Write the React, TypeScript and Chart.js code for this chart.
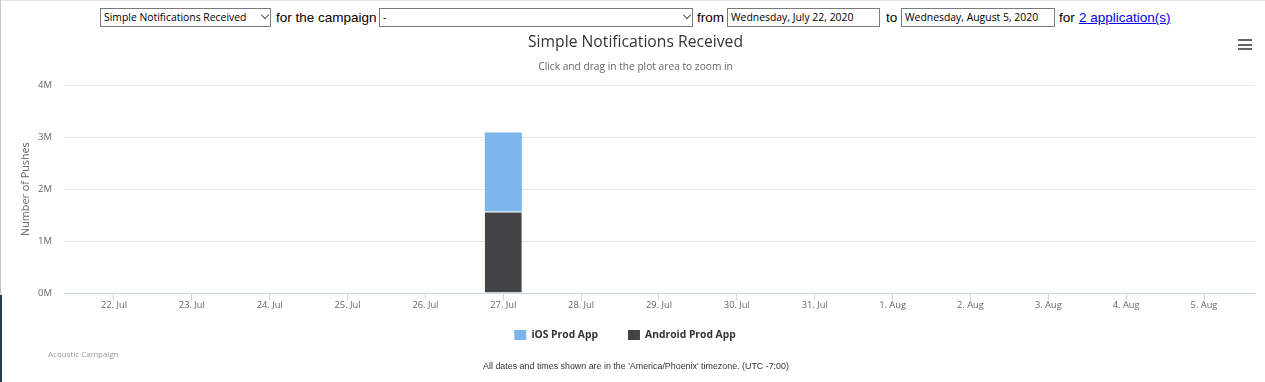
import React, { useEffect, useRef } from "react";
import { Chart, registerables } from "chart.js";

Chart.register(...registerables);

const dates = [
  "22. Jul", "23. Jul", "24. Jul", "25. Jul", "26. Jul", "27. Jul", "28. Jul",
  "29. Jul", "30. Jul", "31. Jul", "1. Aug", "2. Aug", "3. Aug", "4. Aug", "5. Aug",
];
const iosValues = [0, 0, 0, 0, 0, 1524000, 0, 0, 0, 0, 0, 0, 0, 0, 0];
const androidValues = [0, 0, 0, 0, 0, 1566000, 0, 0, 0, 0, 0, 0, 0, 0, 0];
const yTickValues = [0, 1000000, 2000000, 3000000, 4000000];
const seriesNames = ["iOS Prod App", "Android Prod App"];
const seriesColors = ["#7cb5ec", "#434348"];

const FONT = "'Open Sans', sans-serif";

const boxStyle = (left: number, width: number): React.CSSProperties => ({
  position: "absolute",
  left,
  top: 8,
  width,
  height: 19,
  boxSizing: "border-box",
  border: "1px solid #7a7a7a",
  background: "#fff",
  fontFamily: FONT,
  fontSize: 10.4,
  lineHeight: "17px",
  paddingLeft: 3,
  color: "#000",
  whiteSpace: "nowrap",
  overflow: "hidden",
});

const labelStyle = (left: number): React.CSSProperties => ({
  position: "absolute",
  left,
  top: 8,
  height: 19,
  lineHeight: "19px",
  fontFamily: "'Liberation Sans', Arial, sans-serif",
  fontSize: 13.5,
  color: "#000",
  whiteSpace: "nowrap",
});

function Chevron({ left }: { left: number }) {
  return (
    <div
      style={{
        position: "absolute",
        left,
        top: 12,
        width: 5,
        height: 5,
        borderRight: "1px solid #555",
        borderBottom: "1px solid #555",
        transform: "rotate(45deg)",
      }}
    />
  );
}

// moves the bottom legend closer to the axis and matches the reference's centring
const legendPlacement = {
  id: "legendPlacement",
  afterLayout(chart: any) {
    const lg = chart.legend;
    if (!lg) return;
    lg.top -= 11.3;
    lg.bottom -= 11.3;
    lg.left -= 10.5;
    lg.right -= 10.5;
  },
};

export default function App() {
  const canvasRef = useRef<HTMLCanvasElement | null>(null);

  useEffect(() => {
    const canvas = canvasRef.current;
    if (!canvas) return;
    const chart = new Chart(canvas, {
      type: "bar",
      data: {
        datasets: [
          {
            label: seriesNames[1],
            data: androidValues.map((v, i) => ({ x: i, y: v })),
            backgroundColor: seriesColors[1],
            borderColor: "#ffffff",
            borderWidth: { top: 1, left: 0, right: 0, bottom: 0 },
            barThickness: 37,
            inflateAmount: 0,
          },
          {
            label: seriesNames[0],
            data: iosValues.map((v, i) => ({ x: i, y: v })),
            backgroundColor: seriesColors[0],
            borderWidth: 0,
            barThickness: 37,
            inflateAmount: 0,
          },
        ],
      },
      plugins: [legendPlacement],
      options: {
        animation: false,
        responsive: false,
        maintainAspectRatio: false,
        layout: { padding: { left: 16, right: 10, top: 0, bottom: 20.5 } },
        plugins: {
          title: {
            display: true,
            text: "Simple Notifications Received",
            color: "#333333",
            font: { family: FONT, size: 15.7, weight: "normal" },
            padding: { top: 3, bottom: 9 },
          },
          subtitle: {
            display: true,
            text: "Click and drag in the plot area to zoom in",
            color: "#666666",
            font: { family: FONT, size: 10.2, weight: "normal" },
            padding: { top: 0, bottom: 12 },
          },
          legend: {
            position: "bottom",
            reverse: true,
            labels: {
              color: "#333333",
              font: { family: FONT, size: 10.3, weight: "bold" },
              boxWidth: 12,
              boxHeight: 10,
              padding: 30,
              generateLabels: (c: any) =>
                Chart.defaults.plugins.legend.labels
                  .generateLabels(c)
                  .map((l: any) => ({ ...l, lineWidth: 0 })),
            },
          },
          tooltip: { enabled: false },
        },
        scales: {
          x: {
            type: "linear",
            stacked: true,
            offset: false,
            min: -0.642,
            max: 14.655,
            afterBuildTicks: (scale: any) => {
              scale.ticks = dates.map((_, i) => ({ value: i }));
            },
            grid: {
              offset: false,
              drawOnChartArea: false,
              drawTicks: true,
              tickLength: 7,
              color: "#ccd6eb",
            },
            border: { display: true, color: "#ccd6eb" },
            ticks: {
              autoSkip: false,
              maxRotation: 0,
              padding: 0,
              color: "#666666",
              font: { family: FONT, size: 9.3 },
              callback: (v: any) => dates[Math.round(Number(v))] ?? "",
            },
          },
          y: {
            stacked: true,
            min: 0,
            max: 4000000,
            afterBuildTicks: (scale: any) => {
              scale.ticks = yTickValues.map((v) => ({ value: v }));
            },
            afterFit: (scale: any) => {
              scale.width = 48;
            },
            grid: {
              drawTicks: false,
              color: (ctx: any) => (ctx.index === 0 ? "rgba(0,0,0,0)" : "#e6e6e6"),
            },
            border: { display: false },
            ticks: {
              padding: 12,
              color: "#666666",
              font: { family: FONT, size: 9.5 },
              callback: (v: any) => `${Number(v) / 1000000}M`,
            },
            title: {
              display: true,
              text: "Number of Pushes",
              color: "#666666",
              font: { family: FONT, size: 10.8 },
              padding: { top: 3.5, bottom: 0 },
            },
          },
        },
      },
    });
    return () => chart.destroy();
  }, []);

  return (
    <div
      style={{
        position: "fixed",
        left: 0,
        top: 0,
        width: 1265,
        height: 382,
        background: "#fff",
        overflow: "hidden",
      }}
    >
      <div style={{ position: "absolute", left: 0, top: 0, width: 1265, height: 1, background: "#e4e4e4" }} />
      <div style={{ position: "absolute", left: 0, top: 0, width: 1, height: 295, background: "#c4c4c4" }} />
      <div style={{ position: "absolute", left: 0, top: 295, width: 2, height: 87, background: "#1e3a56" }} />

      <div style={boxStyle(100, 171)}>Simple Notifications Received</div>
      <Chevron left={262} />
      <div style={labelStyle(276)}>for the campaign</div>
      <div style={boxStyle(379, 314)}>-</div>
      <Chevron left={684} />
      <div style={labelStyle(697)}>from</div>
      <div style={boxStyle(727, 153)}>Wednesday, July 22, 2020</div>
      <div style={labelStyle(886)}>to</div>
      <div style={boxStyle(901, 154)}>Wednesday, August 5, 2020</div>
      <div style={labelStyle(1059)}>for</div>
      <a href="#" style={{ ...labelStyle(1079), color: "#0000ee", textDecoration: "underline" }}>
        2 application(s)
      </a>

      <canvas
        ref={canvasRef}
        width={1265}
        height={352}
        style={{ position: "absolute", left: 0, top: 30, width: 1265, height: 352 }}
      />

      {[39, 43.5, 48].map((t) => (
        <div
          key={t}
          style={{ position: "absolute", left: 1238, top: t, width: 14, height: 2, background: "#666" }}
        />
      ))}

      <div
        style={{
          position: "absolute",
          left: 48,
          top: 348,
          fontFamily: FONT,
          fontSize: 8,
          lineHeight: "12px",
          color: "#999999",
          whiteSpace: "nowrap",
        }}
      >
        Acoustic Campaign
      </div>
      <div
        style={{
          position: "absolute",
          left: 0,
          top: 360,
          width: 1272,
          textAlign: "center",
          fontFamily: "'Liberation Sans', Arial, sans-serif",
          fontSize: 8.9,
          lineHeight: "12px",
          color: "#333333",
          whiteSpace: "nowrap",
        }}
      >
        All dates and times shown are in the 'America/Phoenix' timezone. (UTC -7:00)
      </div>
    </div>
  );
}
